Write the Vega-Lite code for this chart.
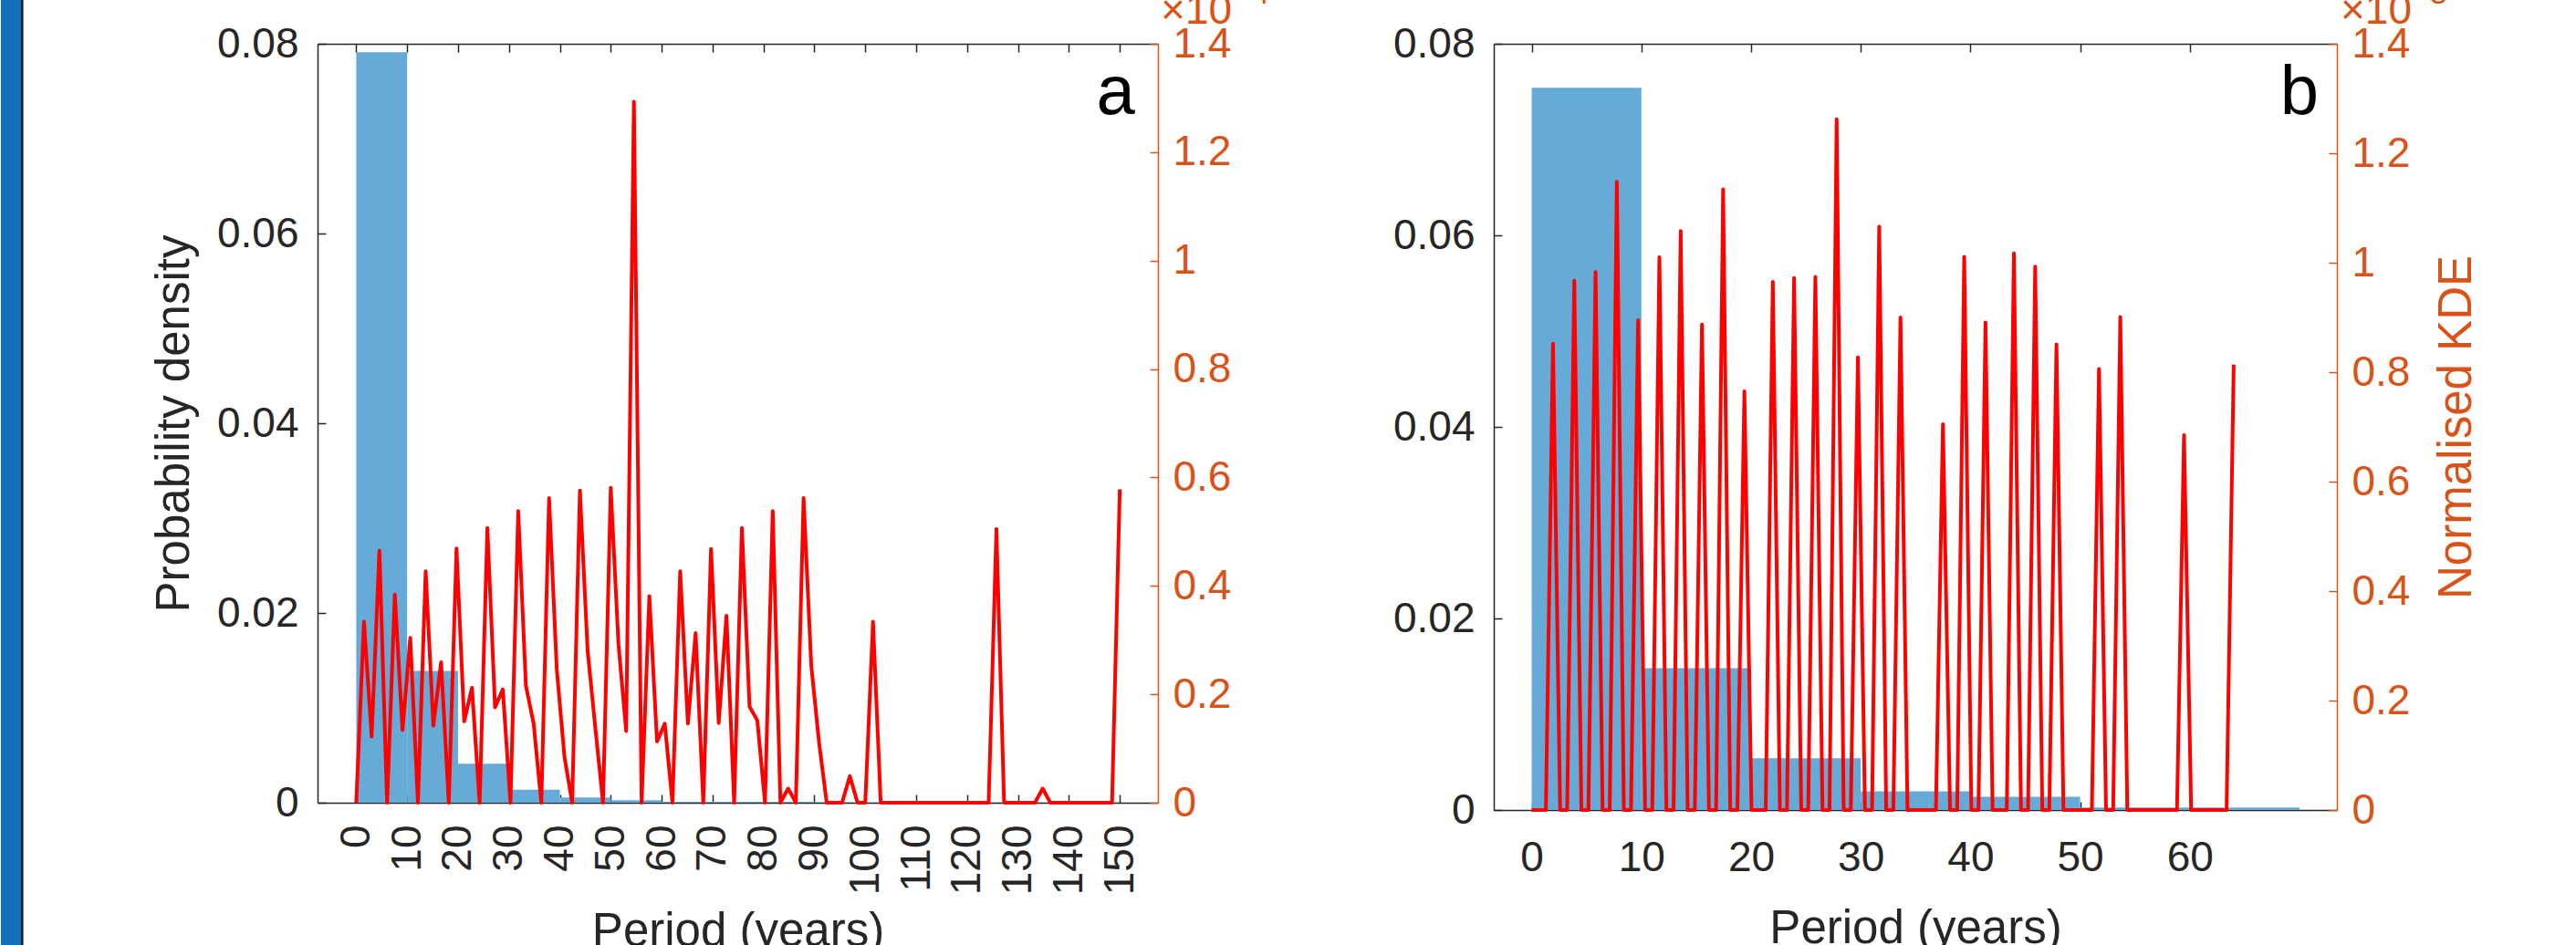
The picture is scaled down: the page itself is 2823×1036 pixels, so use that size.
{
  "$schema": "https://vega.github.io/schema/vega-lite/v6.json",
  "background": "white",
  "padding": {"left": 0, "top": -52, "right": 0, "bottom": 0},
  "autosize": {"type": "pad"},
  "bounds": "flush",
  "spacing": 368,
  "config": {
    "font": "Liberation Sans",
    "view": {"stroke": null},
    "axis": {
      "labelFont": "Liberation Sans", "labelFontSize": 46, "labelColor": "#262626",
      "titleFont": "Liberation Sans", "titleFontSize": 51, "titleFontWeight": "normal", "titleColor": "#262626",
      "domainColor": "#262626", "tickColor": "#262626", "domainWidth": 1.5, "tickWidth": 1.5,
      "tickSize": -9, "grid": false, "labelOverlap": false, "labelFlush": false
    }
  },
  "datasets": {
    "frame": [
      {"part": "frame", "x0": -69.81, "x1": -65.86, "y0": -0.0192, "y1": 0.0896},
      {"part": "edge", "x0": -65.86, "x1": -65.40, "y0": -0.0192, "y1": 0.0896}
    ],
    "barsA": [
      {"b0": 0, "b1": 10, "d": 0.0791},
      {"b0": 10, "b1": 20, "d": 0.0139},
      {"b0": 20, "b1": 30, "d": 0.0041},
      {"b0": 30, "b1": 40, "d": 0.00138},
      {"b0": 40, "b1": 50, "d": 0.00056},
      {"b0": 50, "b1": 60, "d": 0.00027},
      {"b0": 60, "b1": 70, "d": 0.0001},
      {"b0": 70, "b1": 80, "d": 0.0001},
      {"b0": 80, "b1": 90, "d": 0.0001},
      {"b0": 90, "b1": 100, "d": 0.00005},
      {"b0": 100, "b1": 110, "d": 0.00003},
      {"b0": 120, "b1": 130, "d": 0.00003},
      {"b0": 130, "b1": 140, "d": 0.00002},
      {"b0": 140, "b1": 150, "d": 0.00002}
    ],
    "barsB": [
      {"b0": 0, "b1": 10, "d": 0.0754},
      {"b0": 10, "b1": 20, "d": 0.0148},
      {"b0": 20, "b1": 30, "d": 0.0054},
      {"b0": 30, "b1": 40, "d": 0.00195},
      {"b0": 40, "b1": 50, "d": 0.00137},
      {"b0": 50, "b1": 60, "d": 0.00027},
      {"b0": 60, "b1": 70, "d": 0.00027}
    ],
    "lineA": [
      {"p": 0, "v": 0}, {"p": 1.52, "v": 0.334}, {"p": 3.03, "v": 0.122}, {"p": 4.55, "v": 0.465},
      {"p": 6.06, "v": 0}, {"p": 7.58, "v": 0.384}, {"p": 9.09, "v": 0.134}, {"p": 10.61, "v": 0.304},
      {"p": 12.12, "v": 0}, {"p": 13.64, "v": 0.427}, {"p": 15.15, "v": 0.142}, {"p": 16.67, "v": 0.259},
      {"p": 18.18, "v": 0}, {"p": 19.70, "v": 0.469}, {"p": 21.21, "v": 0.150}, {"p": 22.73, "v": 0.212},
      {"p": 24.24, "v": 0}, {"p": 25.76, "v": 0.507}, {"p": 27.27, "v": 0.176}, {"p": 28.79, "v": 0.209},
      {"p": 30.30, "v": 0}, {"p": 31.82, "v": 0.538}, {"p": 33.33, "v": 0.216}, {"p": 34.85, "v": 0.146},
      {"p": 36.36, "v": 0}, {"p": 37.88, "v": 0.562}, {"p": 39.39, "v": 0.247}, {"p": 40.91, "v": 0.084},
      {"p": 42.42, "v": 0}, {"p": 43.94, "v": 0.576}, {"p": 45.45, "v": 0.281}, {"p": 46.97, "v": 0.138},
      {"p": 48.48, "v": 0}, {"p": 50.00, "v": 0.581}, {"p": 51.52, "v": 0.292}, {"p": 53.03, "v": 0.132},
      {"p": 54.55, "v": 1.293}, {"p": 56.06, "v": 0}, {"p": 57.58, "v": 0.381}, {"p": 59.09, "v": 0.113},
      {"p": 60.61, "v": 0.146}, {"p": 62.12, "v": 0}, {"p": 63.64, "v": 0.427}, {"p": 65.15, "v": 0.146},
      {"p": 66.67, "v": 0.313}, {"p": 68.18, "v": 0}, {"p": 69.70, "v": 0.468}, {"p": 71.21, "v": 0.147},
      {"p": 72.73, "v": 0.345}, {"p": 74.24, "v": 0}, {"p": 75.76, "v": 0.507}, {"p": 77.27, "v": 0.177},
      {"p": 78.79, "v": 0.152}, {"p": 80.30, "v": 0}, {"p": 81.82, "v": 0.538}, {"p": 83.33, "v": 0},
      {"p": 84.85, "v": 0.026}, {"p": 86.36, "v": 0}, {"p": 87.88, "v": 0.562}, {"p": 89.39, "v": 0.253},
      {"p": 90.91, "v": 0.112}, {"p": 92.42, "v": 0}, {"p": 93.94, "v": 0}, {"p": 95.45, "v": 0},
      {"p": 96.97, "v": 0.049}, {"p": 98.48, "v": 0}, {"p": 100.00, "v": 0}, {"p": 101.52, "v": 0.334},
      {"p": 103.03, "v": 0}, {"p": 104.55, "v": 0}, {"p": 106.06, "v": 0}, {"p": 107.58, "v": 0},
      {"p": 109.09, "v": 0}, {"p": 110.61, "v": 0}, {"p": 112.12, "v": 0}, {"p": 113.64, "v": 0},
      {"p": 115.15, "v": 0}, {"p": 116.67, "v": 0}, {"p": 118.18, "v": 0}, {"p": 119.70, "v": 0},
      {"p": 121.21, "v": 0}, {"p": 122.73, "v": 0}, {"p": 124.24, "v": 0}, {"p": 125.76, "v": 0.505},
      {"p": 127.27, "v": 0}, {"p": 128.79, "v": 0}, {"p": 130.30, "v": 0}, {"p": 131.82, "v": 0},
      {"p": 133.33, "v": 0}, {"p": 134.85, "v": 0.026}, {"p": 136.36, "v": 0}, {"p": 137.88, "v": 0},
      {"p": 139.39, "v": 0}, {"p": 140.91, "v": 0}, {"p": 142.42, "v": 0}, {"p": 143.94, "v": 0},
      {"p": 145.45, "v": 0}, {"p": 146.97, "v": 0}, {"p": 148.48, "v": 0}, {"p": 150.00, "v": 0.578}
    ],
    "lineB": [
      {"p": 0, "v": 0}, {"p": 0.65, "v": 0}, {"p": 1.29, "v": 0}, {"p": 1.94, "v": 0.852},
      {"p": 2.59, "v": 0}, {"p": 3.23, "v": 0}, {"p": 3.88, "v": 0.967}, {"p": 4.53, "v": 0},
      {"p": 5.17, "v": 0}, {"p": 5.82, "v": 0.983}, {"p": 6.46, "v": 0}, {"p": 7.11, "v": 0},
      {"p": 7.76, "v": 1.148}, {"p": 8.40, "v": 0}, {"p": 9.05, "v": 0}, {"p": 9.70, "v": 0.895},
      {"p": 10.34, "v": 0}, {"p": 10.99, "v": 0}, {"p": 11.64, "v": 1.010}, {"p": 12.28, "v": 0},
      {"p": 12.93, "v": 0}, {"p": 13.58, "v": 1.058}, {"p": 14.22, "v": 0}, {"p": 14.87, "v": 0},
      {"p": 15.52, "v": 0.887}, {"p": 16.16, "v": 0}, {"p": 16.81, "v": 0}, {"p": 17.45, "v": 1.134},
      {"p": 18.10, "v": 0}, {"p": 18.75, "v": 0}, {"p": 19.39, "v": 0.765}, {"p": 20.04, "v": 0},
      {"p": 20.69, "v": 0}, {"p": 21.33, "v": 0}, {"p": 21.98, "v": 0.965}, {"p": 22.63, "v": 0},
      {"p": 23.27, "v": 0}, {"p": 23.92, "v": 0.972}, {"p": 24.57, "v": 0}, {"p": 25.21, "v": 0},
      {"p": 25.86, "v": 0.974}, {"p": 26.51, "v": 0}, {"p": 27.15, "v": 0}, {"p": 27.80, "v": 1.262},
      {"p": 28.44, "v": 0}, {"p": 29.09, "v": 0}, {"p": 29.74, "v": 0.827}, {"p": 30.38, "v": 0},
      {"p": 31.03, "v": 0}, {"p": 31.68, "v": 1.066}, {"p": 32.32, "v": 0}, {"p": 32.97, "v": 0},
      {"p": 33.62, "v": 0.900}, {"p": 34.26, "v": 0}, {"p": 34.91, "v": 0}, {"p": 35.56, "v": 0},
      {"p": 36.20, "v": 0}, {"p": 36.85, "v": 0}, {"p": 37.49, "v": 0.705}, {"p": 38.14, "v": 0},
      {"p": 38.79, "v": 0}, {"p": 39.43, "v": 1.011}, {"p": 40.08, "v": 0}, {"p": 40.73, "v": 0},
      {"p": 41.37, "v": 0.891}, {"p": 42.02, "v": 0}, {"p": 42.67, "v": 0}, {"p": 43.31, "v": 0},
      {"p": 43.96, "v": 1.017}, {"p": 44.61, "v": 0}, {"p": 45.25, "v": 0}, {"p": 45.90, "v": 0.993},
      {"p": 46.55, "v": 0}, {"p": 47.19, "v": 0}, {"p": 47.84, "v": 0.851}, {"p": 48.48, "v": 0},
      {"p": 49.13, "v": 0}, {"p": 49.78, "v": 0}, {"p": 50.42, "v": 0}, {"p": 51.07, "v": 0},
      {"p": 51.72, "v": 0.806}, {"p": 52.36, "v": 0}, {"p": 53.01, "v": 0}, {"p": 53.66, "v": 0.901},
      {"p": 54.30, "v": 0}, {"p": 54.95, "v": 0}, {"p": 55.60, "v": 0}, {"p": 56.24, "v": 0},
      {"p": 56.89, "v": 0}, {"p": 57.54, "v": 0}, {"p": 58.18, "v": 0}, {"p": 58.83, "v": 0},
      {"p": 59.47, "v": 0.685}, {"p": 60.12, "v": 0}, {"p": 60.77, "v": 0}, {"p": 61.41, "v": 0},
      {"p": 62.06, "v": 0}, {"p": 62.71, "v": 0}, {"p": 63.35, "v": 0}, {"p": 64.00, "v": 0.814}
    ],
    "textA": [
      {"t": "a", "x": 153.0, "y": 0.0726}
    ],
    "multA": [
      {"t": "×10", "x": 158.05, "y": 0.08216}
    ],
    "expA": [
      {"t": "−4", "x": 172.4, "y": 0.08423}
    ],
    "textB": [
      {"t": "b", "x": 71.75, "y": 0.07267}
    ],
    "multB": [
      {"t": "×10", "x": 73.74, "y": 0.08214}
    ],
    "expB": [
      {"t": "−3", "x": 80.23, "y": 0.08419}
    ]
  },
  "hconcat": [
    {
      "width": 921,
      "height": 832,
      "resolve": {"scale": {"y": "independent"}, "axis": {"x": "independent", "y": "independent"}},
      "layer": [
        {
          "data": {"name": "frame"},
          "mark": {"type": "rect", "clip": false},
          "encoding": {
            "x": {"field": "x0", "type": "quantitative", "scale": {"domain": [-7.6, 157.5], "nice": false, "zero": false}, "axis": null},
            "x2": {"field": "x1"},
            "y": {"field": "y0", "type": "quantitative", "scale": {"domain": [0, 0.08], "nice": false}, "axis": null},
            "y2": {"field": "y1"},
            "color": {"field": "part", "type": "nominal", "scale": {"domain": ["frame", "edge"], "range": ["#1470b9", "#1c1c1c"]}, "legend": null}
          }
        },
        {
          "data": {"name": "barsA"},
          "mark": {"type": "rect", "color": "#66AAD7", "clip": false},
          "encoding": {
            "x": {"field": "b0", "type": "quantitative", "scale": {"domain": [-7.6, 157.5], "nice": false, "zero": false},
              "axis": {"orient": "bottom", "values": [0, 10, 20, 30, 40, 50, 60, 70, 80, 90, 100, 110, 120, 130, 140, 150], "labelAngle": 270, "labelPadding": 33, "title": "Period (years)", "titlePadding": 16, "format": "d"}},
            "x2": {"field": "b1"},
            "y": {"field": "d", "type": "quantitative", "scale": {"domain": [0, 0.08], "nice": false},
              "axis": {"orient": "left", "values": [0, 0.02, 0.04, 0.06, 0.08], "format": "~g", "labelPadding": 30, "title": "Probability density", "titlePadding": 20}},
            "y2": {"datum": 0}
          }
        },
        {
          "data": {"name": "lineA"},
          "mark": {"type": "line", "color": "#FF0000", "strokeWidth": 4, "strokeJoin": "round", "clip": false},
          "encoding": {
            "x": {"field": "p", "type": "quantitative", "scale": {"domain": [-7.6, 157.5], "nice": false, "zero": false},
              "axis": {"orient": "top", "values": [0, 10, 20, 30, 40, 50, 60, 70, 80, 90, 100, 110, 120, 130, 140, 150], "labels": false, "title": null}},
            "y": {"field": "v", "type": "quantitative", "scale": {"domain": [0, 1.4], "nice": false},
              "axis": {"orient": "right", "values": [0, 0.2, 0.4, 0.6, 0.8, 1, 1.2, 1.4], "format": "~g", "labelPadding": 25, "title": null,
                "domainColor": "#D95319", "tickColor": "#D95319", "labelColor": "#D95319"}}
          }
        },
        {
          "data": {"name": "textA"},
          "mark": {"type": "text", "align": "right", "baseline": "alphabetic", "fontSize": 76, "font": "Liberation Sans", "color": "#000000"},
          "encoding": {
            "x": {"field": "x", "type": "quantitative", "scale": {"domain": [-7.6, 157.5], "nice": false, "zero": false}, "axis": null},
            "y": {"field": "y", "type": "quantitative", "scale": {"domain": [0, 0.08], "nice": false}, "axis": null},
            "text": {"field": "t"}
          }
        },
        {
          "data": {"name": "multA"},
          "mark": {"type": "text", "align": "left", "baseline": "alphabetic", "fontSize": 46, "font": "Liberation Sans", "color": "#D95319"},
          "encoding": {
            "x": {"field": "x", "type": "quantitative", "scale": {"domain": [-7.6, 157.5], "nice": false, "zero": false}, "axis": null},
            "y": {"field": "y", "type": "quantitative", "scale": {"domain": [0, 0.08], "nice": false}, "axis": null},
            "text": {"field": "t"}
          }
        },
        {
          "data": {"name": "expA"},
          "mark": {"type": "text", "align": "left", "baseline": "alphabetic", "fontSize": 34, "font": "Liberation Sans", "color": "#D95319"},
          "encoding": {
            "x": {"field": "x", "type": "quantitative", "scale": {"domain": [-7.6, 157.5], "nice": false, "zero": false}, "axis": null},
            "y": {"field": "y", "type": "quantitative", "scale": {"domain": [0, 0.08], "nice": false}, "axis": null},
            "text": {"field": "t"}
          }
        }
      ]
    },
    {
      "width": 924,
      "height": 840,
      "resolve": {"scale": {"y": "independent"}, "axis": {"x": "independent", "y": "independent"}},
      "layer": [
        {
          "data": {"name": "barsB"},
          "mark": {"type": "rect", "color": "#66AAD7", "clip": false},
          "encoding": {
            "x": {"field": "b0", "type": "quantitative", "scale": {"domain": [-3.46, 73.41], "nice": false, "zero": false},
              "axis": {"orient": "bottom", "values": [0, 10, 20, 30, 40, 50, 60], "labelAngle": 0, "labelPadding": 39.6, "title": "Period (years)", "titlePadding": 30, "format": "d"}},
            "x2": {"field": "b1"},
            "y": {"field": "d", "type": "quantitative", "scale": {"domain": [0, 0.08], "nice": false},
              "axis": {"orient": "left", "values": [0, 0.02, 0.04, 0.06, 0.08], "format": "~g", "labelPadding": 30, "title": null}},
            "y2": {"datum": 0}
          }
        },
        {
          "data": {"name": "lineB"},
          "mark": {"type": "line", "color": "#FF0000", "strokeWidth": 4, "strokeJoin": "round", "clip": false},
          "encoding": {
            "x": {"field": "p", "type": "quantitative", "scale": {"domain": [-3.46, 73.41], "nice": false, "zero": false},
              "axis": {"orient": "top", "values": [0, 10, 20, 30, 40, 50, 60], "labels": false, "title": null}},
            "y": {"field": "v", "type": "quantitative", "scale": {"domain": [0, 1.4], "nice": false},
              "axis": {"orient": "right", "values": [0, 0.2, 0.4, 0.6, 0.8, 1, 1.2, 1.4], "format": "~g", "labelPadding": 25,
                "title": "Normalised KDE", "titleAngle": 270, "titleBaseline": "top", "titlePadding": 27,
                "domainColor": "#D95319", "tickColor": "#D95319", "labelColor": "#D95319", "titleColor": "#D95319"}}
          }
        },
        {
          "data": {"name": "textB"},
          "mark": {"type": "text", "align": "right", "baseline": "alphabetic", "fontSize": 76, "font": "Liberation Sans", "color": "#000000"},
          "encoding": {
            "x": {"field": "x", "type": "quantitative", "scale": {"domain": [-3.46, 73.41], "nice": false, "zero": false}, "axis": null},
            "y": {"field": "y", "type": "quantitative", "scale": {"domain": [0, 0.08], "nice": false}, "axis": null},
            "text": {"field": "t"}
          }
        },
        {
          "data": {"name": "multB"},
          "mark": {"type": "text", "align": "left", "baseline": "alphabetic", "fontSize": 46, "font": "Liberation Sans", "color": "#D95319"},
          "encoding": {
            "x": {"field": "x", "type": "quantitative", "scale": {"domain": [-3.46, 73.41], "nice": false, "zero": false}, "axis": null},
            "y": {"field": "y", "type": "quantitative", "scale": {"domain": [0, 0.08], "nice": false}, "axis": null},
            "text": {"field": "t"}
          }
        },
        {
          "data": {"name": "expB"},
          "mark": {"type": "text", "align": "left", "baseline": "alphabetic", "fontSize": 34, "font": "Liberation Sans", "color": "#D95319"},
          "encoding": {
            "x": {"field": "x", "type": "quantitative", "scale": {"domain": [-3.46, 73.41], "nice": false, "zero": false}, "axis": null},
            "y": {"field": "y", "type": "quantitative", "scale": {"domain": [0, 0.08], "nice": false}, "axis": null},
            "text": {"field": "t"}
          }
        }
      ]
    }
  ]
}
